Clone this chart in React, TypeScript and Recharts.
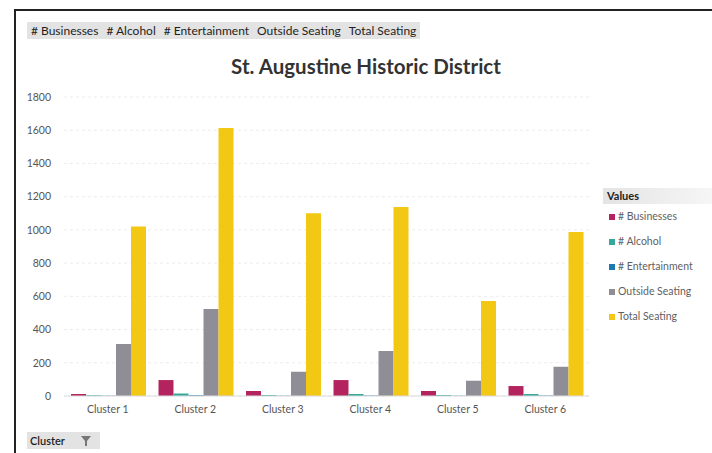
import React from 'react';
import { BarChart, Bar, XAxis, YAxis, CartesianGrid, Legend } from 'recharts';

const clusters = ['Cluster 1', 'Cluster 2', 'Cluster 3', 'Cluster 4', 'Cluster 5', 'Cluster 6'];
const businesses = [12, 96, 30, 96, 30, 60];
const alcohol = [5, 15, 6, 12, 6, 12];
const entertainment = [2, 5, 2, 3, 2, 3];
const outsideSeating = [313, 523, 146, 271, 92, 176];
const totalSeating = [1020, 1613, 1100, 1138, 572, 987];
const yTicks = [0, 200, 400, 600, 800, 1000, 1200, 1400, 1600, 1800];

const series = [
  { key: 'businesses', name: '# Businesses', color: '#b3245f', values: businesses },
  { key: 'alcohol', name: '# Alcohol', color: '#35a89b', values: alcohol },
  { key: 'entertainment', name: '# Entertainment', color: '#1d79b5', values: entertainment },
  { key: 'outside', name: 'Outside Seating', color: '#8f8d95', values: outsideSeating },
  { key: 'total', name: 'Total Seating', color: '#f2c814', values: totalSeating },
];

const data = clusters.map((c, i) => {
  const row: Record<string, string | number> = { cluster: c };
  series.forEach(s => { row[s.key] = s.values[i]; });
  return row;
});

const font = 'Lato, "Noto Sans", sans-serif';

// pivot-style legend on the right
function ValuesLegend() {
  return (
    <div style={{ fontFamily: font, width: 109, textAlign: 'left' }}>
      <div style={{
        fontWeight: 700, fontSize: 11, color: '#222', height: 16, lineHeight: '16px', paddingLeft: 4,
        background: 'linear-gradient(to right, #e4e4e4, #f6f6f6)',
      }}>Values</div>
      {series.map(s => (
        <div key={s.key} style={{ height: 25, lineHeight: '25px', fontSize: 10.5, color: '#5f5f5f', paddingLeft: 6, whiteSpace: 'nowrap' }}>
          <span style={{ display: 'inline-block', width: 6, height: 6, background: s.color, marginRight: 3 }} />
          {s.name}
        </div>
      ))}
    </div>
  );
}

export default function App() {
  return (
    <div style={{ position: 'absolute', left: 0, top: 0, width: 712, height: 453, background: '#fff', overflow: 'hidden', fontFamily: font }}>
      <div style={{ position: 'absolute', left: 14, top: 9, width: 698, height: 2, background: '#222' }} />
      <div style={{ position: 'absolute', left: 14, top: 9, width: 2, height: 444, background: '#222' }} />

      {/* field buttons */}
      <div style={{ position: 'absolute', left: 27, top: 22, height: 17, lineHeight: '17px', padding: '0 4px 0 4px', background: '#e3e3e3', fontSize: 12, color: '#1e1e1e', whiteSpace: 'nowrap' }}>
        {series.map((s, i) => (
          <span key={s.key} style={{ marginRight: i < series.length - 1 ? 8 : 0 }}>{s.name}</span>
        ))}
      </div>

      <div style={{ position: 'absolute', left: 0, width: 692, top: 54, textAlign: 'center', fontSize: 20.5, fontWeight: 700, color: '#333', paddingLeft: 20 }}>
        St. Augustine Historic District
      </div>

      <div style={{ position: 'absolute', left: 0, top: 0 }}>
        <BarChart width={712} height={453} data={data} margin={{ top: 97, right: 123, bottom: 27, left: 0 }} barCategoryGap={7} barGap={0}>
          <CartesianGrid vertical={false} stroke="#ececec" strokeDasharray="3 3" />
          <XAxis dataKey="cluster" height={30} tickLine={false} axisLine={{ stroke: '#dcdcdc' }} tickMargin={4}
            tick={{ fontSize: 10.5, fill: '#555', fontFamily: font }} interval={0} />
          <YAxis width={64} domain={[0, 1800]} ticks={yTicks} tickLine={false} axisLine={false} tickMargin={7}
            tick={{ fontSize: 10.5, fill: '#555', fontFamily: font }} />
          <Legend layout="horizontal" verticalAlign="middle" align="center" content={() => <ValuesLegend />}
            wrapperStyle={{ position: 'absolute', left: 603, top: 188, width: 109 }} />
          {series.map(s => (
            <Bar key={s.key} dataKey={s.key} name={s.name} fill={s.color} isAnimationActive={false} />
          ))}
        </BarChart>
      </div>

      {/* row field button */}
      <div style={{ position: 'absolute', left: 27, top: 432, height: 17, lineHeight: '17px', width: 70, background: '#e3e3e3', fontSize: 11, color: '#1e1e1e', paddingLeft: 3, fontWeight: 600 }}>
        Cluster
        <svg width="10" height="10" style={{ position: 'absolute', left: 54, top: 4 }}>
          <polygon points="0,0 10,0 6,5 6,10 4,10 4,5" fill="#777" />
        </svg>
      </div>
    </div>
  );
}
